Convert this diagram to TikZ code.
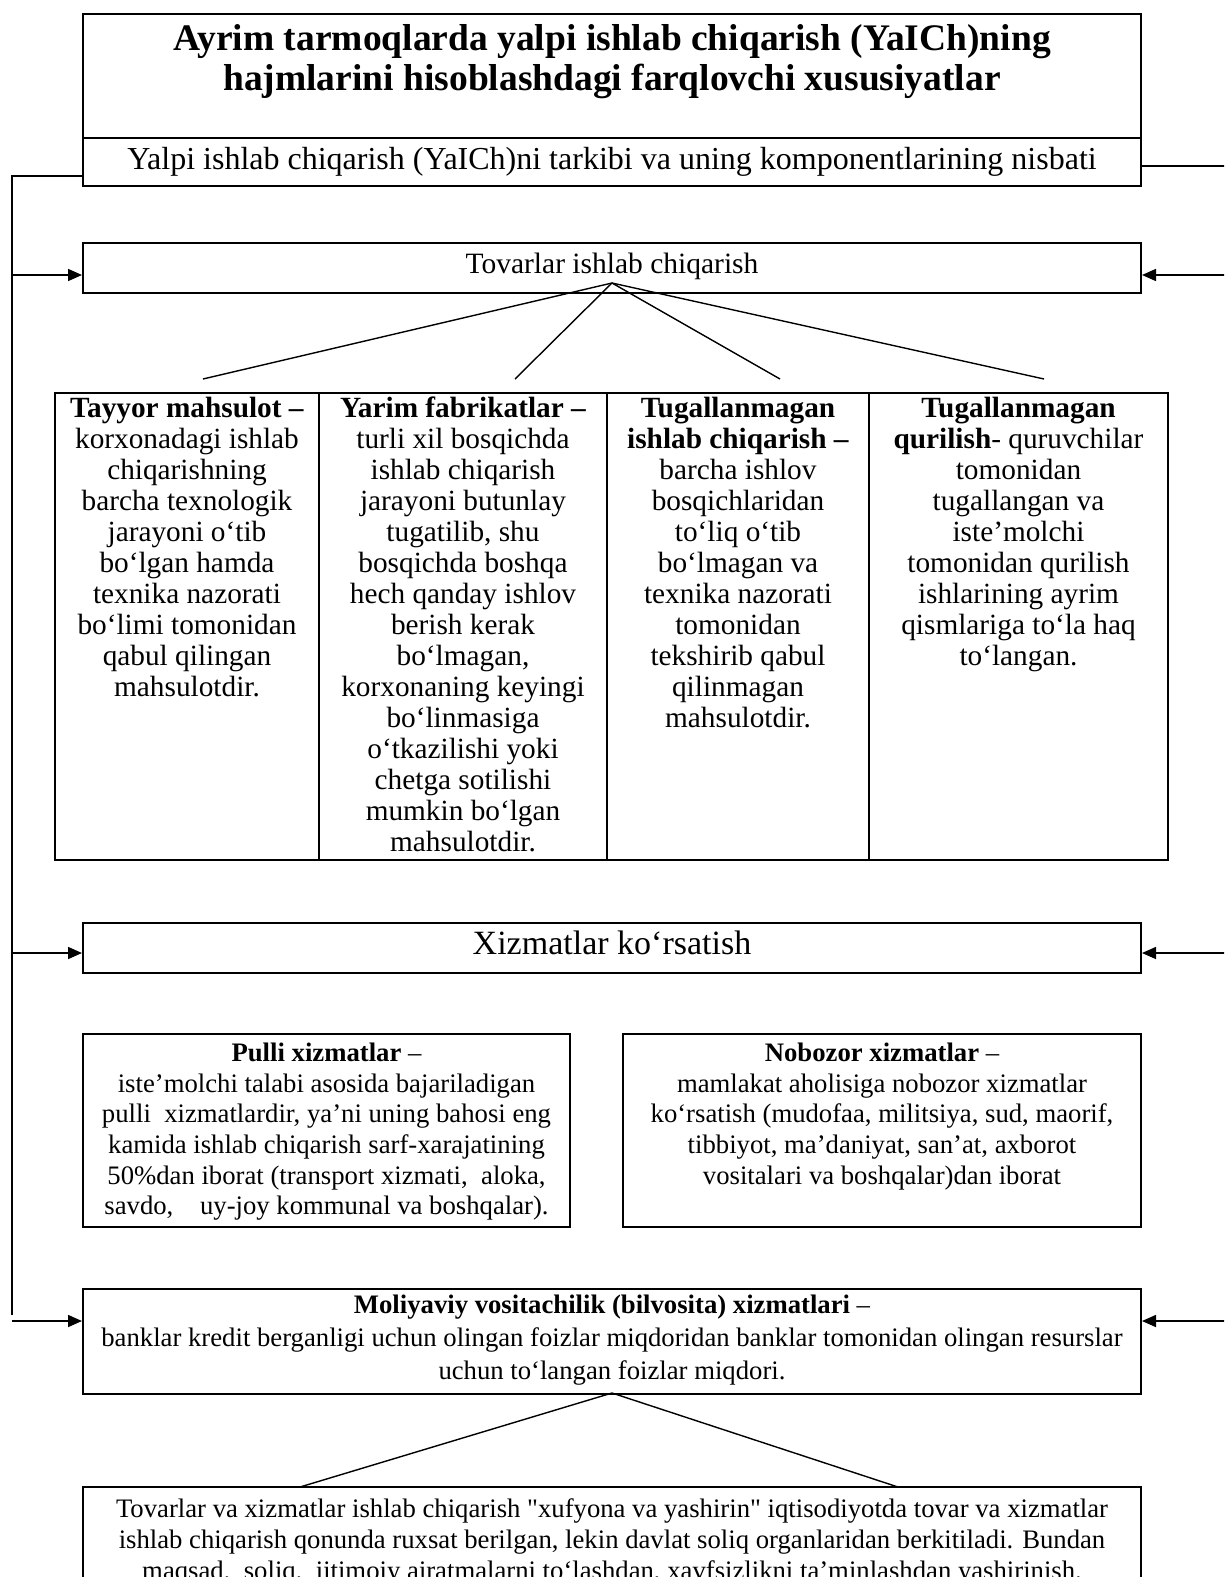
\documentclass[tikz,border=0pt]{standalone}
\usepackage{fontspec}
\setmainfont{Liberation Serif}[Ligatures=TeXOff]
\usetikzlibrary{arrows.meta,calc}
\tikzset{
  box/.style={draw, line width=2pt, inner sep=0pt},
  txt/.style={align=center, inner sep=0pt},
  conn/.style={line width=1.6pt},
  arr/.style={conn, -{Triangle[length=14pt,width=12pt]}},
  thin/.style={line width=1.4pt}
}
\newcommand{\fsz}[2]{\fontsize{#1}{#2}\selectfont}
\begin{document}
\begin{tikzpicture}[x=1pt,y=-1pt]
\useasboundingbox (0,0) rectangle (1224,1577);
\clip (0,0) rectangle (1224,1577);
\fill[white] (0,0) rectangle (1224,1577);

% title and subtitle
\node[box, minimum width=1058pt, minimum height=124pt] (title) at (612,76) {};
\node[txt, font=\bfseries\fsz{37.5}{40}] (tt) at (612,62) {Ayrim tarmoqlarda yalpi ishlab chiqarish (YaICh)ning\\hajmlarini hisoblashdagi farqlovchi xususiyatlar};
\node[box, minimum width=1058pt, minimum height=48pt, font=\fsz{32}{34}] (sub) at (612,162) {Yalpi ishlab chiqarish (YaICh)ni tarkibi va uning komponentlarining nisbati};

% Tovarlar
\node[box, minimum width=1058pt, minimum height=50pt] (tov) at (612,268) {};
\node[txt, font=\fsz{29.5}{31}] (tovt) at (612,266) {Tovarlar ishlab chiqarish};

% table columns
\node[box, minimum width=264pt, minimum height=467pt] (c1) at (187,626.5) {};
\node[box, minimum width=288pt, minimum height=467pt] (c2) at (463,626.5) {};
\node[box, minimum width=262pt, minimum height=467pt] (c3) at (738,626.5) {};
\node[box, minimum width=299pt, minimum height=467pt] (c4) at (1018.5,626.5) {};
\node[txt, anchor=north, font=\fsz{29.3}{31}] (t1) at (187,397) {\textbf{Tayyor mahsulot –}\\korxonadagi ishlab\\chiqarishning\\barcha texnologik\\jarayoni o‘tib\\bo‘lgan hamda\\texnika nazorati\\bo‘limi tomonidan\\qabul qilingan\\mahsulotdir.};
\node[txt, anchor=north, font=\fsz{29.3}{31}] (t2) at (463,397) {\textbf{Yarim fabrikatlar –}\\turli xil bosqichda\\ishlab chiqarish\\jarayoni butunlay\\tugatilib, shu\\bosqichda boshqa\\hech qanday ishlov\\berish kerak\\bo‘lmagan,\\korxonaning keyingi\\bo‘linmasiga\\o‘tkazilishi yoki\\chetga sotilishi\\mumkin bo‘lgan\\mahsulotdir.};
\node[txt, anchor=north, font=\fsz{29.3}{31}] (t3) at (738,397) {\textbf{Tugallanmagan}\\\textbf{ishlab chiqarish –}\\barcha ishlov\\bosqichlaridan\\to‘liq o‘tib\\bo‘lmagan va\\texnika nazorati\\tomonidan\\tekshirib qabul\\qilinmagan\\mahsulotdir.};
\node[txt, anchor=north, font=\fsz{29.3}{31}] (t4) at (1018.5,397) {\textbf{Tugallanmagan}\\\textbf{qurilish}- quruvchilar\\tomonidan\\tugallangan va\\iste’molchi\\tomonidan qurilish\\ishlarining ayrim\\qismlariga to‘la haq\\to‘langan.};

% lines from Tovarlar
\coordinate (tapex) at (612,283);
\coordinate (e1) at (203,379);
\coordinate (e2) at (515,379);
\coordinate (e3) at (780,379);
\coordinate (e4) at (1044,379);
\draw[thin] (tapex) -- (e1);
\draw[thin] (tapex) -- (e2);
\draw[thin] (tapex) -- (e3);
\draw[thin] (tapex) -- (e4);

% Xizmatlar
\node[box, minimum width=1058pt, minimum height=50pt] (xiz) at (612,948) {};
\node[txt, font=\fsz{34}{36}] (xizt) at (612,943) {Xizmatlar ko‘rsatish};

% Pulli and Nobozor
\node[box, minimum width=487pt, minimum height=193pt] (pul) at (326.5,1130.5) {};
\node[txt, anchor=north, font=\fsz{26.7}{30.6}] (pult) at (326.5,1043) {\textbf{Pulli xizmatlar} –\\iste’molchi talabi asosida bajariladigan\\pulli\ \ xizmatlardir, ya’ni uning bahosi eng\\kamida ishlab chiqarish sarf-xarajatining\\50\%dan iborat (transport xizmati,\ \ aloka,\\savdo,\ \ \ \ uy-joy kommunal va boshqalar).};
\node[box, minimum width=518pt, minimum height=193pt] (nob) at (882,1130.5) {};
\node[txt, anchor=north, font=\fsz{26.7}{30.6}] (nobt) at (882,1043) {\textbf{Nobozor xizmatlar} –\\mamlakat aholisiga nobozor xizmatlar\\ko‘rsatish (mudofaa, militsiya, sud, maorif,\\tibbiyot, ma’daniyat, san’at, axborot\\vositalari va boshqalar)dan iborat};

% Moliyaviy
\node[box, minimum width=1058pt, minimum height=105pt] (mol) at (612,1341.5) {};
\node[txt, anchor=north, font=\fsz{26.7}{33}] (molt) at (612,1295) {\textbf{Moliyaviy vositachilik (bilvosita) xizmatlari} –\\banklar kredit berganligi uchun olingan foizlar miqdoridan banklar tomonidan olingan resurslar\\uchun to‘langan foizlar miqdori.};

% bottom box
\node[box, minimum width=1058pt, minimum height=140pt] (bot) at (612,1557) {};
\node[txt, anchor=north, font=\fsz{26.7}{31}] (bott) at (612,1498) {Tovarlar va xizmatlar ishlab chiqarish "xufyona va yashirin" iqtisodiyotda tovar va xizmatlar\\ishlab chiqarish qonunda ruxsat berilgan, lekin davlat soliq organlaridan berkitiladi. Bundan\\maqsad,\ \ soliq,\ \ ijtimoiy ajratmalarni to‘lashdan, xavfsizlikni ta’minlashdan yashirinish.};

\coordinate (mapex) at (612,1393);
\coordinate (b1) at (300,1487);
\coordinate (b2) at (898,1487);
\draw[thin] (mapex) -- (b1);
\draw[thin] (mapex) -- (b2);

% left connector
\coordinate (LA) at (12,176);
\coordinate (LB) at (12,1315);
\draw[conn] (LA -| sub.west) -- (LA) -- (LB);
\coordinate (L1) at (12,275);
\coordinate (L2) at (12,953);
\coordinate (L3) at (12,1321);
\draw[arr] (L1) -- (L1 -| tov.west);
\draw[arr] (L2) -- (L2 -| xiz.west);
\draw[arr] (L3) -- (L3 -| mol.west);

% right connector
\coordinate (RA) at (1226,166);
\draw[conn] (RA -| sub.east) -- (RA);
\coordinate (R1) at (1226,275);
\coordinate (R2) at (1226,953);
\coordinate (R3) at (1226,1321);
\draw[arr] (R1) -- (R1 -| tov.east);
\draw[arr] (R2) -- (R2 -| xiz.east);
\draw[arr] (R3) -- (R3 -| mol.east);
\end{tikzpicture}
\end{document}
